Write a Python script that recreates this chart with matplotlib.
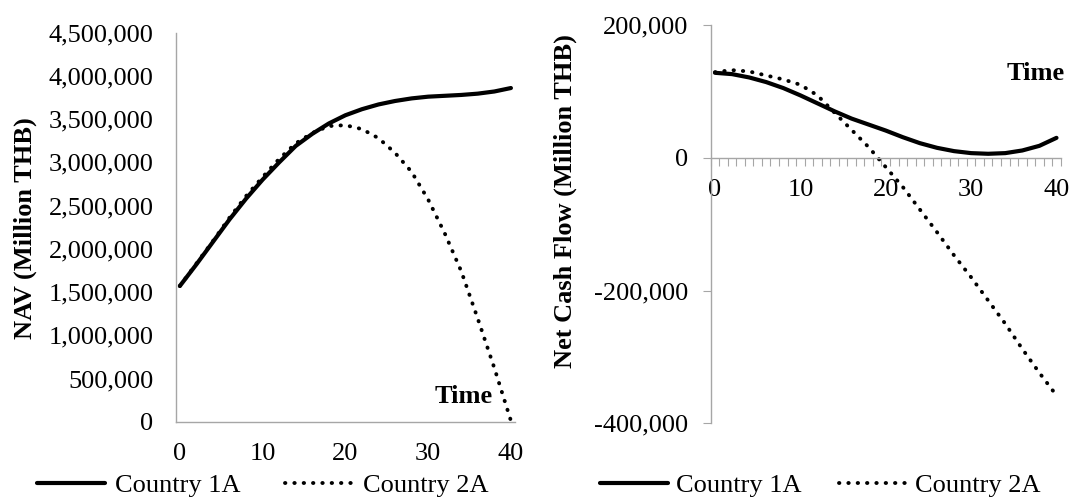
import matplotlib
matplotlib.use('Agg')
import matplotlib.pyplot as plt
from matplotlib.ticker import FuncFormatter

# 1. Values (every 2 years)
years = [0, 2, 4, 6, 8, 10, 12, 14, 16, 18, 20, 22, 24, 26, 28, 30, 32, 34, 36, 38, 40]

nav_1a = [1570000, 1820000, 2080000, 2340000, 2580000, 2800000, 3000000, 3190000, 3330000, 3450000,
          3545000, 3615000, 3670000, 3710000, 3740000, 3760000, 3770000, 3780000, 3795000, 3820000, 3860000]
nav_2a = [1570000, 1830000, 2090000, 2360000, 2610000, 2830000, 3040000, 3220000, 3340000, 3420000,
          3430000, 3385000, 3280000, 3110000, 2890000, 2570000, 2180000, 1740000, 1190000, 620000, 10000]

ncf_1a = [128000, 126000, 121000, 114000, 105000, 94000, 82000, 70000, 59000, 50000,
          41000, 31000, 22000, 15000, 10000, 7000, 6000, 7000, 11000, 18000, 30000]
ncf_2a = [129000, 132000, 130000, 124000, 118000, 110000, 94000, 68000, 42000, 16000,
          -14000, -44000, -78000, -112000, -147000, -180000, -215000, -250000, -288000, -324000, -358000]

x_labels = [0, 10, 20, 30, 40]
nav_ticks = [0, 500000, 1000000, 1500000, 2000000, 2500000, 3000000, 3500000, 4000000, 4500000]
ncf_ticks = [-400000, -200000, 0, 200000]

# 2. Style
plt.rcParams['font.family'] = ['Liberation Serif', 'DejaVu Serif']
plt.rcParams['font.size'] = 19
axis_grey = '#a6a6a6'
dotted = (0, (0.1, 2.3))
comma = FuncFormatter(lambda v, pos: f'{v:,.0f}')

fig = plt.figure(figsize=(10.78, 5), dpi=100)
ax1 = fig.add_axes([0.163, 0.1566, 0.3148, 0.778])
ax2 = fig.add_axes([0.6593, 0.1534, 0.3247, 0.7966])

# 3. Left panel: NAV
ax1.plot(years, nav_1a, color='black', lw=3, solid_capstyle='round', solid_joinstyle='round', label='Country 1A')
ax1.plot(years, nav_2a, color='black', lw=2.8, linestyle=dotted, dash_capstyle='round', label='Country 2A')
ax1.set_xlim(-0.5, 40.5)
ax1.set_ylim(0, 4500000)
ax1.set_xticks(x_labels)
ax1.set_yticks(nav_ticks)
ax1.yaxis.set_major_formatter(comma)
ax1.tick_params(axis='x', length=0, pad=15)
ax1.tick_params(axis='y', length=0, pad=16)
for s in ['top', 'right']:
    ax1.spines[s].set_visible(False)
for s in ['left', 'bottom']:
    ax1.spines[s].set_color(axis_grey)
    ax1.spines[s].set_linewidth(1)
ax1.text(37.8, 216000, 'Time', fontweight='bold', ha='right', va='baseline')

# 4. Right panel: Net cash flow
ax2.plot(years, ncf_1a, color='black', lw=3, solid_capstyle='round', solid_joinstyle='round', label='Country 1A')
ax2.plot(years, ncf_2a, color='black', lw=2.8, linestyle=dotted, dash_capstyle='round', label='Country 2A')
ax2.set_xlim(-0.5, 40.5)
ax2.set_ylim(-400000, 200000)
ax2.set_xticks(x_labels)
ax2.set_xticks([i + 0.5 for i in range(-1, 41)], minor=True)
ax2.set_yticks(ncf_ticks)
ax2.yaxis.set_major_formatter(comma)
ax2.spines['bottom'].set_position(('data', 0))
ax2.tick_params(axis='x', which='major', length=0, pad=15)
ax2.tick_params(axis='x', which='minor', direction='out', length=5.5, width=0.8, color=axis_grey)
ax2.tick_params(axis='y', direction='out', length=6, width=0.8, color=axis_grey, pad=10)
for s in ['top', 'right']:
    ax2.spines[s].set_visible(False)
for s in ['left', 'bottom']:
    ax2.spines[s].set_color(axis_grey)
    ax2.spines[s].set_linewidth(1)
ax2.text(34.2, 117000, 'Time', fontweight='bold', ha='left', va='baseline')

# 5. Axis titles and legends
fig.text(0.0232, 0.544, 'NAV (Million THB)', rotation=90, fontweight='bold', ha='center', va='center')
fig.text(0.524, 0.597, 'Net Cash Flow (Million THB)', rotation=90, fontweight='bold', ha='center', va='center')

ax1.legend(loc='center', bbox_to_anchor=(0.2435, 0.03), bbox_transform=fig.transFigure, ncol=2,
           frameon=False, handlelength=2.6, handletextpad=0.35, columnspacing=1.7, borderaxespad=0)
ax2.legend(loc='center', bbox_to_anchor=(0.7607, 0.03), bbox_transform=fig.transFigure, ncol=2,
           frameon=False, handlelength=2.6, handletextpad=0.3, columnspacing=1.4, borderaxespad=0)

# 6. Save
fig.savefig('out.png', dpi=100)
